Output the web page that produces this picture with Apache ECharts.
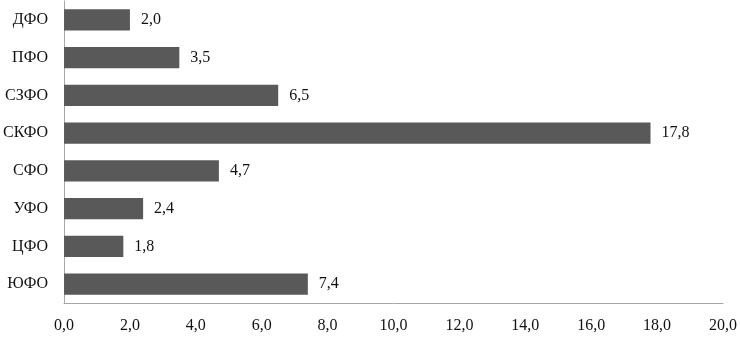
<!DOCTYPE html>
<html style="height: 100%">
<head>
<meta charset="utf-8">
<script src="https://cdn.jsdelivr.net/npm/echarts@6/dist/echarts.min.js"></script>
</head>
<body style="height: 100%; margin: 0; background: #fff">
<div id="container" style="width: 740px; height: 338px"></div>
<script type="text/javascript">
// categories, top to bottom as in the picture
var regions = ['ДФО', 'ПФО', 'СЗФО', 'СКФО', 'СФО', 'УФО', 'ЦФО', 'ЮФО'];
var values = [2.0, 3.5, 6.5, 17.8, 4.7, 2.4, 1.8, 7.4];

var fmt = function (v) {
    return Number(v).toFixed(1).replace('.', ',');
};

var myChart = echarts.init(document.getElementById('container'));

var option = {
    animation: false,
    textStyle: { fontFamily: 'Liberation Serif' },
    grid: { left: 62, right: 15, top: 1, bottom: 35, containLabel: false },
    xAxis: {
        type: 'value',
        min: 0,
        max: 20,
        interval: 2,
        axisLine: { show: true, onZero: false, lineStyle: { color: '#a6a6a6', width: 1 } },
        axisTick: { show: false },
        splitLine: { show: false },
        axisLabel: {
            color: '#111',
            fontSize: 16,
            fontFamily: 'Liberation Serif',
            margin: 15,
            formatter: fmt
        }
    },
    yAxis: {
        type: 'category',
        data: regions,
        inverse: true,
        axisLine: { show: true, lineStyle: { color: '#a6a6a6', width: 1 } },
        axisTick: { show: false },
        axisLabel: {
            color: '#111',
            fontSize: 16,
            fontFamily: 'Liberation Serif',
            margin: 16
        }
    },
    series: [{
        type: 'bar',
        data: values,
        barCategoryGap: '44%',
        itemStyle: { color: '#595959' },
        label: {
            show: true,
            position: 'right',
            distance: 11,
            color: '#111',
            fontSize: 16,
            fontFamily: 'Liberation Serif',
            formatter: function (p) { return fmt(p.value); }
        }
    }]
};

myChart.setOption(option);
</script>
</body>
</html>
